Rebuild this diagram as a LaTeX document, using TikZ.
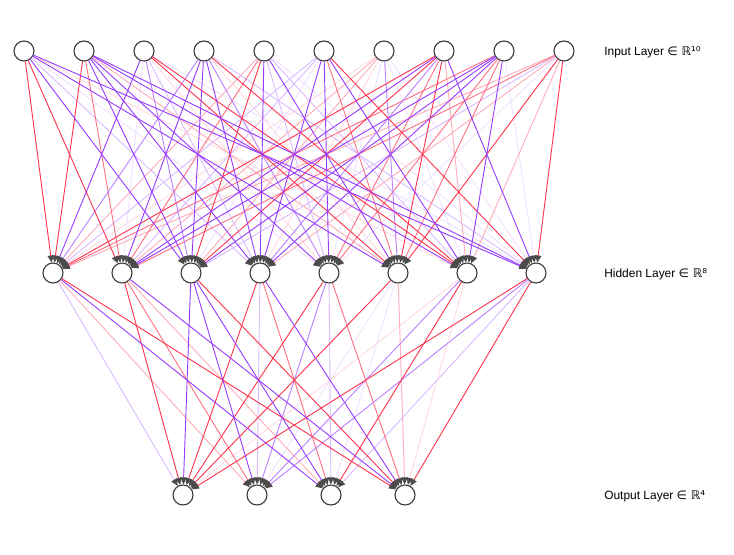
\documentclass[tikz,border=0pt]{standalone}
\usepackage{amsmath}
\usepackage{amssymb}
\usepackage{fontspec}
\setmainfont{Liberation Sans}
\newfontfamily\symfont{DejaVu Sans}
\usetikzlibrary{arrows.meta}

\definecolor{redline}{RGB}{255,51,77}
\definecolor{purpline}{RGB}{150,60,255}
\definecolor{ringgray}{RGB}{60,60,60}
\definecolor{tipgray}{RGB}{75,75,75}

\tikzset{
	neuron/.style={circle,draw=ringgray,line width=0.8pt,fill=white,minimum size=0.5cm,inner sep=0pt},
	layername/.style={anchor=west,inner sep=0pt,font=\fontsize{8.5}{10}\selectfont},
	edge/.style={line width=0.65pt,-{Triangle[length=5pt,width=4.5pt,color=tipgray]}},
	r1/.style={draw=redline},
	r2/.style={draw=redline!70!white},
	r3/.style={draw=redline!40!white},
	r4/.style={draw=redline!18!white},
	p1/.style={draw=purpline},
	p2/.style={draw=purpline!65!white},
	p3/.style={draw=purpline!35!white},
	p4/.style={draw=purpline!15!white}
}

\begin{document}
\begin{tikzpicture}[x=0.025cm,y=-0.025cm]
		\useasboundingbox (0,0) rectangle (734,554);
		\foreach \k in {1,...,10}
			\node[neuron] (i\k) at ({24+60*(\k-1)},51) {};
		\foreach \k in {1,...,8}
			\node[neuron] (h\k) at ({53+69*(\k-1)},273) {};
		\foreach \k in {1,...,4}
			\node[neuron] (o\k) at ({183+74*(\k-1)},495) {};
		\node[layername] (inlabel) at (604,52) {Input Layer {\symfont ∈ ℝ¹⁰}};
		\node[layername] (hidlabel) at (604,274) {Hidden Layer {\symfont ∈ ℝ⁸}};
		\node[layername] (outlabel) at (604,496) {Output Layer {\symfont ∈ ℝ⁴}};
		% faint weights first, strong ones on top
		\foreach \a/\b in {i1/h7,i3/h5,i4/h6,i7/h1,i7/h4,h7/o1,h7/o4}
			\draw[edge,r4] (\a) -- (\b);
		\foreach \a/\b in {i1/h5,i3/h2,i3/h8,i5/h8,i6/h3,i7/h5,i7/h7,i7/h8,i9/h8,i10/h5,h6/o2,h6/o3}
			\draw[edge,p4] (\a) -- (\b);
		\foreach \a/\b in {i2/h6,i5/h1,i7/h2,i7/h3,i8/h7,i10/h1,i10/h4,i10/h7,h1/o2,h2/o3,h6/o4}
			\draw[edge,r3] (\a) -- (\b);
		\foreach \a/\b in {i1/h4,i3/h4,i4/h8,i5/h5,i5/h7,i6/h1,i6/h2,i10/h3,h1/o1,h4/o2,h5/o3,h8/o3}
			\draw[edge,p3] (\a) -- (\b);
		\foreach \a/\b in {i2/h2,i5/h2,i6/h6,i8/h5,i9/h1,i9/h5,i9/h6,i10/h2,h2/o2,h4/o3,h5/o4}
			\draw[edge,r2] (\a) -- (\b);
		\foreach \a/\b in {i3/h3,i4/h1,i4/h5,i7/h6,i8/h4,h5/o2,h7/o2,h8/o2}
			\draw[edge,p2] (\a) -- (\b);
		\foreach \a/\b in {i1/h1,i1/h2,i2/h1,i3/h6,i3/h7,i4/h7,i5/h3,i6/h8,i8/h1,i8/h3,i8/h6,i10/h6,i10/h8,h1/o4,h2/o1,h3/o4,h4/o1,h5/o1,h6/o1,h7/o3,h8/o1,h8/o4}
			\draw[edge,r1] (\a) -- (\b);
		\foreach \a/\b in {i1/h3,i1/h6,i1/h8,i2/h3,i2/h4,i2/h5,i2/h7,i2/h8,i3/h1,i4/h2,i4/h3,i4/h4,i5/h4,i5/h6,i6/h4,i6/h5,i6/h7,i8/h2,i8/h8,i9/h2,i9/h3,i9/h4,i9/h7,h1/o3,h2/o4,h3/o1,h3/o2,h3/o3,h4/o4}
			\draw[edge,p1] (\a) -- (\b);
	\end{tikzpicture}
\end{document}
